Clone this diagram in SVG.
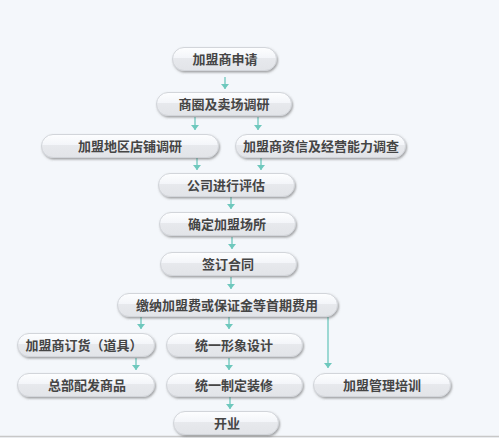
<svg xmlns="http://www.w3.org/2000/svg" width="499" height="438" viewBox="0 0 499 438">
<defs>
<linearGradient id="g" x1="0" y1="0" x2="0" y2="1">
<stop offset="0" stop-color="#fdfeff"/>
<stop offset="0.46" stop-color="#f3f5f9"/>
<stop offset="0.47" stop-color="#e7e9ed"/>
<stop offset="1" stop-color="#e2e4e8"/>
</linearGradient>
<filter id="sh" x="-10%" y="-30%" width="120%" height="170%">
<feDropShadow dx="1" dy="1.5" stdDeviation="0.8" flood-color="#555" flood-opacity="0.55"/>
</filter>
<marker id="ah" markerWidth="5" markerHeight="8" refX="5" refY="4" orient="auto" markerUnits="userSpaceOnUse" viewBox="0 0 5 8">
<path d="M0,0 L5,4 L0,8 Z" fill="#6ec8bd"/>
</marker>
</defs>
<style>
.p{fill:url(#g);stroke:#d2d5da;stroke-width:1;filter:url(#sh)}
.t{font-family:"Noto Sans CJK SC","Noto Sans CJK TC",sans-serif;font-size:13px;font-weight:bold;fill:#454545;text-anchor:middle}
.c{stroke:#6ec8bd;stroke-width:1.3;fill:none;marker-end:url(#ah)}
</style>
<rect x="0" y="0" width="499" height="438" fill="#f4f7fb"/>
<line x1="0" y1="436.5" x2="499" y2="436.5" stroke="#c8c8c8" stroke-width="1.5"/>
<g id="connectors">
<line class="c" x1="225" y1="77" x2="225" y2="89"/>
<line class="c" x1="195" y1="117" x2="195" y2="130"/>
<line class="c" x1="258" y1="117" x2="258" y2="130"/>
<line class="c" x1="197" y1="158" x2="197" y2="170"/>
<line class="c" x1="261" y1="158" x2="261" y2="170"/>
<line class="c" x1="231" y1="197" x2="231" y2="209"/>
<line class="c" x1="232" y1="237" x2="232" y2="249"/>
<line class="c" x1="231" y1="277" x2="231" y2="289"/>
<line class="c" x1="141" y1="317" x2="141" y2="329"/>
<line class="c" x1="229" y1="317" x2="229" y2="329"/>
<line class="c" x1="328" y1="317" x2="328" y2="368"/>
<line class="c" x1="136" y1="358" x2="136" y2="370"/>
<line class="c" x1="229" y1="358" x2="229" y2="370"/>
<line class="c" x1="230" y1="397" x2="230" y2="409"/>
</g>
<g id="n1"><rect class="p" x="172.5" y="47.5" width="104" height="23" rx="11.5"/><text class="t" x="225" y="64">加盟商申请</text></g>
<g id="n2"><rect class="p" x="156.5" y="92.5" width="135" height="23" rx="11.5"/><text class="t" x="224" y="109">商圈及卖场调研</text></g>
<g id="n3"><rect class="p" x="41.5" y="134.5" width="177" height="23" rx="11.5"/><text class="t" x="130" y="151">加盟地区店铺调研</text></g>
<g id="n4"><rect class="p" x="235.5" y="134.5" width="170" height="23" rx="11.5"/><text class="t" x="321" y="151">加盟商资信及经营能力调查</text></g>
<g id="n5"><rect class="p" x="158.5" y="173.5" width="136" height="23" rx="11.5"/><text class="t" x="226" y="190">公司进行评估</text></g>
<g id="n6"><rect class="p" x="159.5" y="212.5" width="136" height="23" rx="11.5"/><text class="t" x="227" y="229">确定加盟场所</text></g>
<g id="n7"><rect class="p" x="160.5" y="252.5" width="136" height="23" rx="11.5"/><text class="t" x="228" y="269">签订合同</text></g>
<g id="n8"><rect class="p" x="117.5" y="293.5" width="220" height="23" rx="11.5"/><text class="t" x="227" y="310">缴纳加盟费或保证金等首期费用</text></g>
<g id="n9"><rect class="p" x="17.5" y="333.5" width="137" height="23" rx="11.5"/><text class="t" x="84" y="350">加盟商订货（道具）</text></g>
<g id="n10"><rect class="p" x="166.5" y="333.5" width="136" height="23" rx="11.5"/><text class="t" x="234" y="350">统一形象设计</text></g>
<g id="n11"><rect class="p" x="17.5" y="373.5" width="137" height="23" rx="11.5"/><text class="t" x="87" y="390">总部配发商品</text></g>
<g id="n12"><rect class="p" x="166.5" y="373.5" width="136" height="23" rx="11.5"/><text class="t" x="234" y="390">统一制定装修</text></g>
<g id="n13"><rect class="p" x="313.5" y="373.5" width="137" height="23" rx="11.5"/><text class="t" x="382" y="390">加盟管理培训</text></g>
<g id="n14"><rect class="p" x="173.5" y="411.5" width="105" height="23" rx="11.5"/><text class="t" x="227" y="428">开业</text></g>
</svg>
